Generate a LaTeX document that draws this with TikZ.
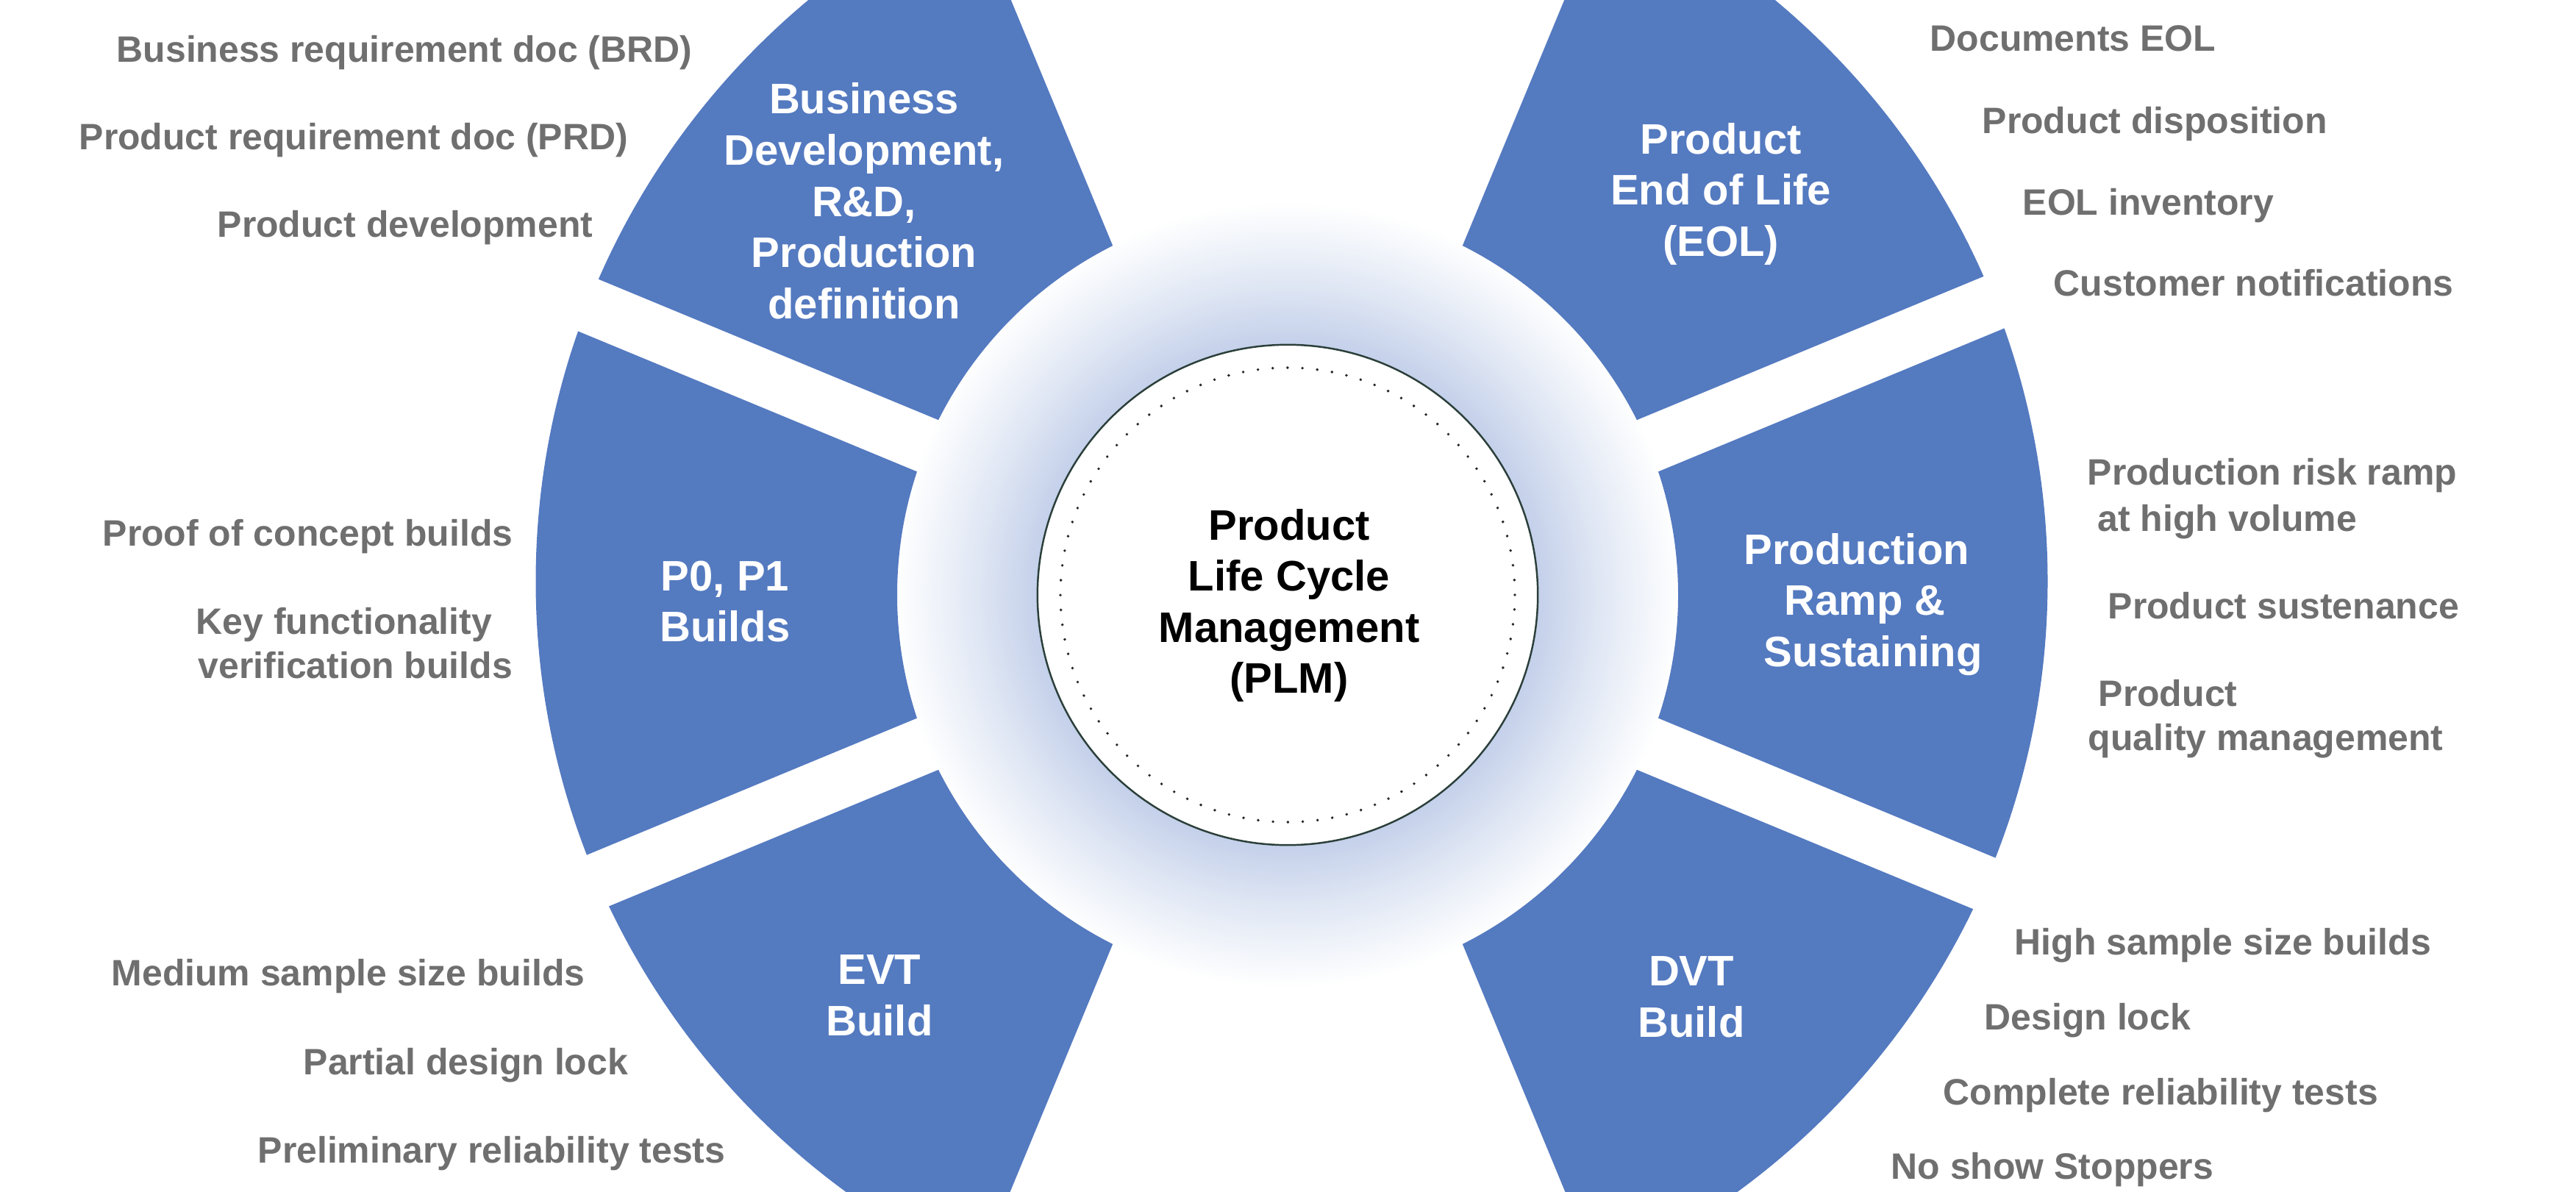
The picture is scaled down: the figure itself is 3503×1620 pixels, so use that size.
\documentclass[tikz,border=0pt]{standalone}
\usepackage{fontspec}
\setmainfont{Liberation Sans}
\usetikzlibrary{calc}
\definecolor{segblue}{HTML}{547AC0}
\definecolor{sidegray}{HTML}{6F6F6F}
\definecolor{glowA}{HTML}{C4D0EA}
\definecolor{glowB}{HTML}{E0E7F4}
\definecolor{ringline}{HTML}{2B3F3A}
\pgfdeclareradialshading{plmglow}{\pgfpoint{0bp}{0bp}}{color(0bp)=(glowA); color(15.6bp)=(glowA); color(19.5bp)=(glowB); color(24.5bp)=(white); color(50bp)=(white)}
\begin{document}
\begin{tikzpicture}[x=0.01cm,y=0.01cm,
  segment/.style={fill=segblue, even odd rule},
  seglabel/.style={text=white, font=\bfseries\fontsize{16.5}{19.8}\selectfont, align=center, inner sep=0pt},
  hublabel/.style={text=black, font=\bfseries\fontsize{16.5}{19.8}\selectfont, align=center, inner sep=0pt},
  side/.style={text=sidegray, font=\bfseries\fontsize{14.2}{17.4}\selectfont, inner sep=0pt, anchor=base west},
  hubring/.style={circle, fill=white, draw=ringline, line width=0.7pt, minimum size=6.8cm, inner sep=0pt},
  dotring/.style={draw=black!85, line width=1.1pt, line cap=round, dash pattern=on 0pt off 0.2022cm}]
\useasboundingbox (0,0) rectangle (3503,1620);
\clip (0,0) rectangle (3503,1620);
\coordinate (C1) at (1751,811);
\coordinate (C2) at (1756.5,829.5);
% glow around the hub
\shade[shading=plmglow] (C1) circle (545);
% six ring segments
\foreach \a/\n in {180/p,135/b,45/e,0/r,-45/d,-135/v} {
  \begin{scope}
    \path (C1) ++(\a:99.3) coordinate (ap\n);
    \clip (ap\n) -- ($(ap\n)+(\a-22.5:2500)$) -- ($(ap\n)+(\a+22.5:2500)$) -- cycle;
    \fill[segment] (C2) circle (1028) (C1) circle (531);
  \end{scope}
}
% hub
\node[hubring] (hub) at (C1) {};
\draw[dotring] (C1) circle (309);
\node[hublabel] (hubtext) at (1753,796.5) {Product\\Life Cycle\\Management\\(PLM)};
% segment labels
\node[seglabel] (biz) at (1175,1346.5) {Business\\Development,\\R\&D,\\Production\\definition};
\node[seglabel] (eol) at (2340,1356) {Product\\End of Life\\(EOL)};
\node[seglabel] (p0) at (986,802) {P0, P1\\Builds};
\node[seglabel] (ramp) at (2536,798) {Production\hspace*{16\pgflinewidth}\\Ramp \&\\\hspace*{16\pgflinewidth}Sustaining};
\node[seglabel] (evt) at (1196,266) {EVT\\Build};
\node[seglabel] (dvt) at (2300,264) {DVT\\Build};
% left side notes
\node[side] (brd) at (158,1535) {Business requirement doc (BRD)};
\node[side] (prd) at (107,1416) {Product requirement doc (PRD)};
\node[side] (pdev) at (295,1297) {Product development};
\node[side] (poc) at (139,878) {Proof of concept builds};
\node[side] (keyf) at (266,758) {Key functionality};
\node[side] (verb) at (269,698) {verification builds};
\node[side] (med) at (151,280) {Medium sample size builds};
\node[side] (pdl) at (412,159) {Partial design lock};
\node[side] (prel) at (350,39) {Preliminary reliability tests};
% right side notes
\node[side] (doc) at (2624,1550) {Documents EOL};
\node[side] (disp) at (2695,1438) {Product disposition};
\node[side] (inv) at (2750,1327) {EOL inventory};
\node[side] (cust) at (2792,1217) {Customer notifications};
\node[side] (risk) at (2838,960) {Production risk ramp};
\node[side] (vol) at (2852,898) {at high volume};
\node[side] (sust) at (2866,779) {Product sustenance};
\node[side] (prod) at (2853,660) {Product};
\node[side] (qual) at (2839,600) {quality management};
\node[side] (high) at (2739,322) {High sample size builds};
\node[side] (dl) at (2698,220) {Design lock};
\node[side] (crt) at (2642,118) {Complete reliability tests};
\node[side] (nss) at (2571,17) {No show Stoppers};
\end{tikzpicture}
\end{document}
